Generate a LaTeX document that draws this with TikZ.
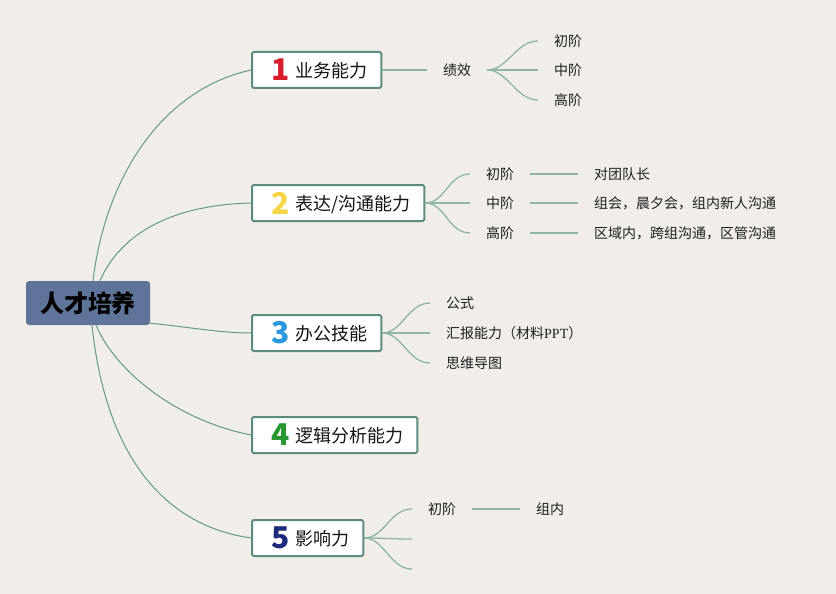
\documentclass[tikz,border=0pt]{standalone}
\usepackage{fontspec}
\setmainfont{Noto Sans CJK SC}
\newfontfamily\latinserif{Liberation Serif}
\usepackage{xcolor}
\usepackage{tikz}
\usetikzlibrary{positioning}
\usetikzlibrary{calc}

\definecolor{bgcol}{RGB}{241,237,232}
\definecolor{rootcol}{RGB}{95,116,153}
\definecolor{boxline}{RGB}{91,140,126}
\definecolor{linkmain}{RGB}{98,155,134}
\definecolor{linksub}{RGB}{140,183,163}
\definecolor{numred}{RGB}{216,30,44}
\definecolor{numyellow}{RGB}{245,213,71}
\definecolor{numblue}{RGB}{43,151,222}
\definecolor{numgreen}{RGB}{38,150,46}
\definecolor{numnavy}{RGB}{30,42,126}

\tikzset{
  rootbox/.style={fill=rootcol, rounded corners=3pt, minimum width=124pt, minimum height=44pt, inner sep=0pt, text=black, font=\fontsize{24pt}{28pt}\selectfont\bfseries},
  branchbox/.style={draw=boxline, line width=2pt, fill=white, rounded corners=1.5pt, minimum height=36pt, inner xsep=14pt, inner ysep=0pt, anchor=west, text=black!92, font=\fontsize{18pt}{20pt}\selectfont},
  leaf/.style={inner xsep=16pt, inner ysep=2pt, anchor=west, text=black!88, font=\fontsize{14pt}{16pt}\selectfont},
  mainlink/.style={draw=linkmain, line width=1pt},
  sublink/.style={draw=linksub, line width=1.3pt},
}
\newcommand{\bnum}[2]{\raisebox{-3.5pt}{\fontsize{30pt}{30pt}\selectfont\bfseries\color{#1}#2}\hspace{6pt}}

\begin{document}
\begin{tikzpicture}[x=1pt,y=1pt,yscale=-1,xscale=1]
%set diagram canvas 836 x 594
\fill[bgcol] (0,0) rectangle (836,594);
\useasboundingbox (0,0) rectangle (836,594);

%Shape: Root
\node[rootbox] (root) at (88,303) {人才培养};

%Shape: Branches
\node[branchbox] (b1) at (251,70) {\hspace{5pt}\bnum{numred}{1}业务能力};
\node[branchbox] (b2) at (251,203) {\hspace{5pt}\bnum{numyellow}{2}表达/沟通能力};
\node[branchbox] (b3) at (251,333) {\hspace{5pt}\bnum{numblue}{3}办公技能};
\node[branchbox] (b4) at (251,435) {\hspace{5pt}\bnum{numgreen}{4}逻辑分析能力};
\node[branchbox] (b5) at (251,538) {\hspace{5pt}\bnum{numnavy}{5}影响力};

%Curve Lines: root to branches
\draw[mainlink] ($(root.north)+(5,0)$) .. controls +(12,-101) and +(-91,20) .. (b1.west);
\draw[mainlink] ($(root.north)+(12,0)$) .. controls +(20,-46) and +(-81,2) .. (b2.west);
\draw[mainlink] ($(root.south east)+(0,-2)$) .. controls +(40,4) and +(-31,0) .. (b3.west);
\draw[mainlink] ($(root.south)+(8,0)$) .. controls +(19,45) and +(-76,-15) .. (b4.west);
\draw[mainlink] ($(root.south)+(4,0)$) .. controls +(13,125) and +(-91,-13) .. (b5.west);

% Text Node
\node[leaf] (jx) at (427,70) {绩效};
\node[leaf] (l11) at (538,41) {初阶};
\node[leaf] (l12) at (538,70) {中阶};
\node[leaf] (l13) at (538,100) {高阶};
% Text Node
\node[leaf] (l21) at (470,174) {初阶};
\node[leaf] (l22) at (470,203) {中阶};
\node[leaf] (l23) at (470,233) {高阶};
\node[leaf] (t21) at (578,174) {对团队长};
\node[leaf] (t22) at (578,203) {组会，晨夕会，组内新人沟通};
\node[leaf] (t23) at (578,233) {区域内，跨组沟通，区管沟通};
% Text Node
\node[leaf] (l31) at (430,303) {公式};
\node[leaf] (l32) at (430,333) {汇报能力（材料{\latinserif PPT}）};
\node[leaf] (l33) at (430,363) {思维导图};
% Text Node
\node[leaf] (l51) at (412,509) {初阶};
\coordinate (c52) at (412,539);
\coordinate (c53) at (412,569);
\node[leaf] (t51) at (520,509) {组内};

%Straight Lines
\draw[sublink] (b1.east) -- (jx.west);
\draw[sublink] (l21.east) -- (t21.west);
\draw[sublink] (l22.east) -- (t22.west);
\draw[sublink] (l23.east) -- (t23.west);
\draw[sublink] (l51.east) -- (t51.west);

%Curve Lines: fans
\foreach \a/\b in {jx/l11, jx/l12, jx/l13, b2/l21, b2/l22, b2/l23, b3/l31, b3/l32, b3/l33, b5/l51}
  \draw[sublink] (\a.east) .. controls +(20,0) and +(-22,0) .. (\b.west);
\draw[sublink] (b5.east) .. controls +(20,0) and +(-22,0) .. (c52);
\draw[sublink] (b5.east) .. controls +(20,0) and +(-22,0) .. (c53);

\end{tikzpicture}
\end{document}
